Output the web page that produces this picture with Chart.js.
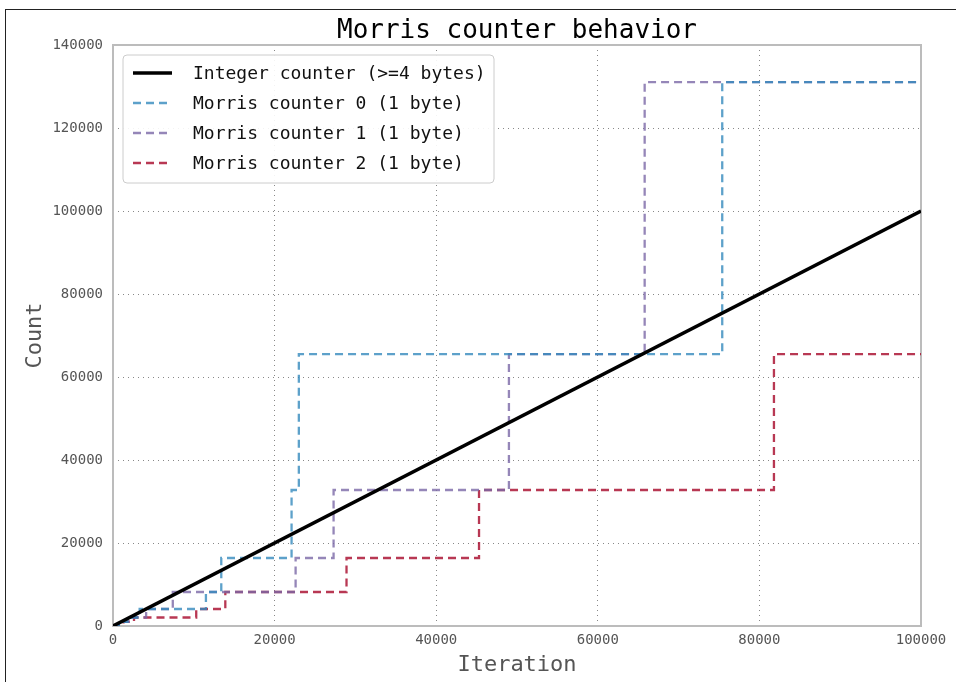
<!DOCTYPE html>
<html>
<head>
<meta charset="utf-8">
<script src="https://cdn.jsdelivr.net/npm/chart.js@4/dist/chart.umd.min.js"></script>
<style>
  html, body { margin: 0; padding: 0; background: #fff; }
  #wrap { position: relative; width: 956px; height: 682px; overflow: hidden; }
  #c { position: absolute; left: 0; top: 0; }
  #frame { position: absolute; left: 5px; top: 9px; width: 1000px; height: 700px;
           border-left: 1px solid #222; border-top: 1px solid #222; pointer-events: none; }
</style>
</head>
<body>
<div id="wrap">
  <canvas id="c" width="956" height="682"></canvas>
  <div id="frame"></div>
</div>
<script>
// Exact integer counter: one increment per iteration
const integerX = [0, 100000];
const integerY = [0, 100000];

// Morris counters: the estimate (a power of two) jumps at these iterations
const morris0X = [0, 500, 1100, 1800, 3300, 11500, 13400, 22100, 23000, 75400, 100000];
const morris0Y = [1, 256, 1024, 2048, 4096, 8192, 16384, 32768, 65536, 131072, 131072];

const morris1X = [0, 600, 1200, 2300, 4100, 7400, 22600, 27300, 49000, 65800, 100000];
const morris1Y = [1, 256, 1024, 2048, 4096, 8192, 16384, 32768, 65536, 131072, 131072];

const morris2X = [0, 500, 1300, 2600, 10300, 13900, 28900, 45300, 81800, 100000];
const morris2Y = [1, 256, 1024, 2048, 4096, 8192, 16384, 32768, 65536, 65536];

const seriesLabels = [
  'Integer counter (>=4 bytes)',
  'Morris counter 0 (1 byte)',
  'Morris counter 1 (1 byte)',
  'Morris counter 2 (1 byte)'
];

const xTicks = [0, 20000, 40000, 60000, 80000, 100000];
const yTicks = [0, 20000, 40000, 60000, 80000, 100000, 120000, 140000];

const titleText = 'Morris counter behavior';
const xTitle = 'Iteration';
const yTitle = 'Count';

const MONO = '"DejaVu Sans Mono", "Liberation Mono", monospace';
const DASH = [8, 5];

function points(xs, ys) {
  return xs.map((x, i) => ({ x: x, y: ys[i] }));
}

// Plot frame, title, axis titles and the boxed legend
const decorations = {
  id: 'decorations',
  beforeDatasetsDraw(chart) {
    const { ctx, chartArea: a } = chart;
    ctx.save();
    ctx.strokeStyle = '#bcbcbc';
    ctx.lineWidth = 2;
    ctx.strokeRect(a.left, a.top, a.right - a.left, a.bottom - a.top);
    ctx.restore();
  },
  afterDraw(chart) {
    const { ctx, chartArea: a } = chart;
    ctx.save();
    // title
    ctx.fillStyle = '#000';
    ctx.font = '26px ' + MONO;
    ctx.textAlign = 'center';
    ctx.textBaseline = 'alphabetic';
    ctx.fillText(titleText, (a.left + a.right) / 2, 38);
    // axis titles
    ctx.fillStyle = '#555';
    ctx.font = '22px ' + MONO;
    ctx.textBaseline = 'middle';
    ctx.fillText(xTitle, (a.left + a.right) / 2, 665);
    ctx.translate(35, (a.top + a.bottom) / 2);
    ctx.rotate(-Math.PI / 2);
    ctx.fillText(yTitle, 0, 0);
    ctx.restore();

    // legend
    ctx.save();
    const bx = a.left + 10, by = a.top + 10, bw = 371, bh = 128, r = 4;
    ctx.beginPath();
    ctx.moveTo(bx + r, by);
    ctx.arcTo(bx + bw, by, bx + bw, by + bh, r);
    ctx.arcTo(bx + bw, by + bh, bx, by + bh, r);
    ctx.arcTo(bx, by + bh, bx, by, r);
    ctx.arcTo(bx, by, bx + bw, by, r);
    ctx.closePath();
    ctx.fillStyle = 'rgba(255,255,255,0.9)';
    ctx.fill();
    ctx.strokeStyle = '#cccccc';
    ctx.lineWidth = 1;
    ctx.stroke();
    ctx.font = '18px ' + MONO;
    ctx.textAlign = 'left';
    ctx.textBaseline = 'middle';
    chart.data.datasets.forEach((ds, i) => {
      const y = by + 18 + i * 30;
      ctx.beginPath();
      ctx.setLineDash(ds.borderDash || []);
      ctx.strokeStyle = ds.borderColor;
      ctx.lineWidth = ds.borderWidth;
      ctx.moveTo(bx + 10, y);
      ctx.lineTo(bx + 49, y);
      ctx.stroke();
      ctx.setLineDash([]);
      ctx.fillStyle = '#111';
      ctx.fillText(ds.label, bx + 70, y + 1);
    });
    ctx.restore();
  }
};

new Chart(document.getElementById('c'), {
  type: 'line',
  data: {
    datasets: [
      { label: seriesLabels[0], data: points(integerX, integerY),
        borderColor: '#000', borderWidth: 3.5, pointRadius: 0, tension: 0 },
      { label: seriesLabels[1], data: points(morris0X, morris0Y), stepped: 'before',
        borderColor: 'rgba(52,138,189,0.8)', borderWidth: 2.3, borderDash: DASH, pointRadius: 0 },
      { label: seriesLabels[2], data: points(morris1X, morris1Y), stepped: 'before',
        borderColor: 'rgba(122,104,166,0.8)', borderWidth: 2.3, borderDash: DASH, pointRadius: 0 },
      { label: seriesLabels[3], data: points(morris2X, morris2Y), stepped: 'before',
        borderColor: 'rgba(166,6,40,0.8)', borderWidth: 2.3, borderDash: DASH, pointRadius: 0 }
    ]
  },
  options: {
    responsive: false,
    animation: false,
    devicePixelRatio: 1,
    layout: { padding: { left: 0, right: 35, top: 45, bottom: 0 } },
    plugins: { legend: { display: false }, title: { display: false }, tooltip: { enabled: false } },
    scales: {
      x: {
        type: 'linear', min: 0, max: 100000,
        afterFit(scale) { scale.height = 56; },
        afterBuildTicks(scale) { scale.ticks = xTicks.map(v => ({ value: v })); },
        ticks: { color: '#555', font: { family: MONO, size: 14 }, padding: 6,
                 maxRotation: 0, autoSkip: false, callback: v => String(v) },
        grid: { color: '#888', lineWidth: 1, drawTicks: false },
        border: { display: false, dash: [1, 4] }
      },
      y: {
        type: 'linear', min: 0, max: 140000,
        afterFit(scale) { scale.width = 113; },
        afterBuildTicks(scale) { scale.ticks = yTicks.map(v => ({ value: v })); },
        ticks: { color: '#555', font: { family: MONO, size: 14 }, padding: 10,
                 autoSkip: false, callback: v => String(v) },
        grid: { color: '#888', lineWidth: 1, drawTicks: false },
        border: { display: false, dash: [1, 4] }
      }
    }
  },
  plugins: [decorations]
});
</script>
</body>
</html>
